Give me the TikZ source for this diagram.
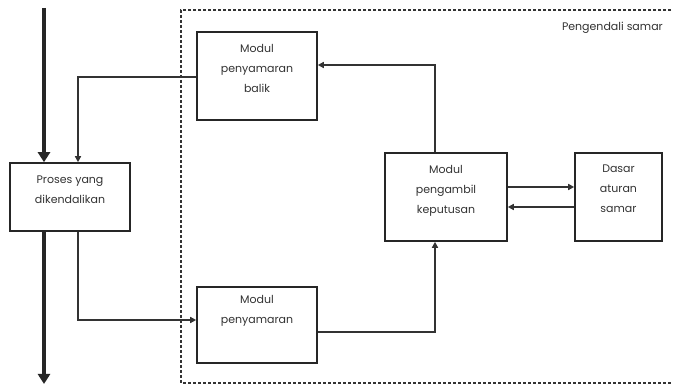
\documentclass[tikz,border=0pt]{standalone}
\usepackage{fontspec}
\setmainfont{Poppins}
\usetikzlibrary{arrows.meta}
\begin{document}
\begin{tikzpicture}[x=1pt,y=-1pt,
  box/.style={draw=black!85, line width=1.6pt, rectangle, inner sep=0pt},
  txt/.style={align=center, font=\fontsize{11}{20}\selectfont, text=black!80, inner sep=0pt},
  thin/.style={draw=black!80, line width=1.6pt, -{Triangle[length=6pt,width=6pt]}},
  thick/.style={draw=black!85, line width=3.8pt, -{Triangle[length=10pt,width=12pt]}},
  border/.style={draw=black!80, line width=1.4pt, dash pattern=on 3pt off 2pt}]
\useasboundingbox (0,0) rectangle (673,387);
\fill[white] (0,0) rectangle (673,387);
% dashed enclosure
\draw[border] (676,10) -- (181,10) -- (181,383) -- (676,383);
\node[txt, anchor=east] (lbl) at (663,28) {Pengendali samar};
% boxes
\node[box, minimum width=120pt, minimum height=88pt] (balik) at (257,76) {};
\node[box, minimum width=120pt, minimum height=68pt] (proc) at (70,197) {};
\node[box, minimum width=120pt, minimum height=76pt] (fuzz) at (257,325) {};
\node[box, minimum width=122pt, minimum height=88pt] (dec) at (446,197) {};
\node[box, minimum width=87pt, minimum height=88pt] (rule) at (618.5,197) {};
% texts
\node[txt] (tbalik) at (257,68) {Modul\\penyamaran\\balik};
\node[txt] (tproc) at (70,190) {Proses yang\\dikendalikan};
\node[txt] (tfuzz) at (257,311) {Modul\\penyamaran};
\node[txt] (tdec) at (446,191) {Modul\\pengambil\\keputusan};
\node[txt] (trule) at (618.5,189) {Dasar\\aturan\\samar};
% free ends
\coordinate (top) at (44,8);
\coordinate (bot) at (44,384);
% main thick flow
\draw[thick] (top) -- (top |- proc.north);
\draw[thick] (proc.south -| top) -- (bot);
% feedback from defuzzifier to process
\draw[thin] (balik.west |- 0,77) -| (78,0 |- proc.north);
% process to fuzzifier
\draw[thin] (78,0 |- proc.south) |- (fuzz.west |- 0,320);
% fuzzifier to decision
\draw[thin] (fuzz.east |- 0,332) -| (435,0 |- dec.south);
% decision to defuzzifier
\draw[thin] (435,0 |- dec.north) |- (balik.east |- 0,65);
% decision <-> rule base
\draw[thin] (dec.east |- 0,187) -- (rule.west |- 0,187);
\draw[thin] (rule.west |- 0,207) -- (dec.east |- 0,207);
\end{tikzpicture}
\end{document}
